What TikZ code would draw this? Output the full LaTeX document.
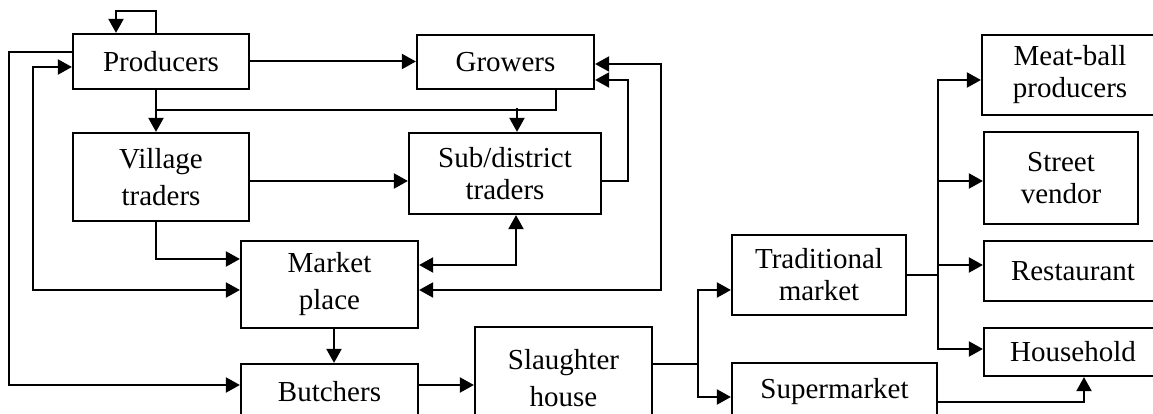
\documentclass[tikz,border=0pt]{standalone}
\usepackage{fontspec}
\setmainfont{Liberation Serif}
\usetikzlibrary{arrows.meta}

\begin{document}
\begin{tikzpicture}[x=1pt, y=1pt, line join=miter, >={Triangle[length=14pt,width=15pt]}, font=\fontsize{29}{37}\selectfont]
	\tikzset{box/.style n args={2}{draw, line width=2.2pt, align=center, inner sep=0pt, minimum width=#1pt, minimum height=#2pt},
		tight/.style={font=\fontsize{29}{32}\selectfont},
		arr/.style={->, line width=2pt}, arr2/.style={<->, line width=2pt}, link/.style={line width=1.5pt}}
	\useasboundingbox (0,0) rectangle (1153,414);
	\node[box={176}{55}] (prod) at (161,352.5) {Producers};
	\node[box={177}{54}] (grow) at (505.5,352) {Growers};
	\node[box={176}{88}] (vill) at (161,237) {Village\\traders};
	\node[box={192}{81}, tight] (sub) at (505,240.5) {Sub/district\\traders};
	\node[box={177}{87}] (mkt) at (329.5,129.5) {Market\\place};
	\node[box={177}{56}] (butch) at (329.5,22) {Butchers};
	\node[box={177}{103}] (slaugh) at (563.5,35.5) {Slaughter\\house};
	\node[box={174}{80}, tight] (trad) at (819,139) {Traditional\\market};
	\node[box={205}{57}] (super) at (834.5,22.5) {Supermarket};
	\node[box={176}{80}, tight] (meat) at (1070,339) {Meat-ball\\producers};
	\node[box={154}{92}, tight] (street) at (1061,236) {Street\\vendor};
	\node[box={178}{60}] (rest) at (1073,143) {Restaurant};
	\node[box={178}{48}] (house) at (1073,62) {Household};
	\draw[arr] ([xshift=-5pt]prod.north) -- ++(0,22) -| ([xshift=-45pt]prod.north);
	\draw[arr] (prod.east) -- (prod.east -| grow.west);
	\draw[arr] ([xshift=-5pt]prod.south) -- ([xshift=-5pt]vill.north);
	\draw[link] ([xshift=50.5pt]grow.south) |- ([xshift=-5pt,yshift=-20pt]prod.south);
	\draw[arr] ([xshift=12pt,yshift=24pt]sub.north) -- ([xshift=12pt]sub.north);
	\draw[arr] ([yshift=-4pt]vill.east) -- ([yshift=-4pt]vill.east -| sub.west);
	\draw[arr] ([yshift=-7.5pt]sub.east) -- ++(26,0) |- ([yshift=-18pt]grow.east);
	\draw[arr2] ([yshift=-2pt]grow.east) -- ++(66,0) |- ([yshift=-5.5pt]mkt.east);
	\draw[arr2] ([xshift=11pt]sub.south) |- ([yshift=19.5pt]mkt.east);
	\draw[arr] ([xshift=-5pt]vill.south) |- ([yshift=25.5pt]mkt.west);
	\draw[arr2] ([yshift=-5.5pt]prod.west) -- ++(-39,0) |- ([yshift=-5.5pt]mkt.west);
	\draw[arr] ([yshift=9.5pt]prod.west) -- ++(-63,0) |- ([yshift=7pt]butch.west);
	\draw[arr] ([xshift=4.5pt]mkt.south) -- ([xshift=4.5pt]butch.north);
	\draw[arr] ([yshift=7pt]butch.east) -- ([yshift=7pt]butch.east -| slaugh.west);
	\draw[link] ([yshift=14.5pt]slaugh.east) -- ++(45,0) coordinate (sj);
	\draw[arr] (sj) |- ([yshift=-15pt]trad.west);
	\draw[arr] (sj) |- ([yshift=-5.5pt]super.west);
	\draw[link] (trad.east) -- ++(31,0) coordinate (tj);
	\foreach \n/\s in {meat/-5, street/-3, rest/6, house/3}
		\draw[arr] (tj) |- ([yshift=\s pt]\n.west);
	\draw[arr] ([yshift=-10.5pt]super.east) -| ([xshift=11pt]house.south);
\end{tikzpicture}
\end{document}
